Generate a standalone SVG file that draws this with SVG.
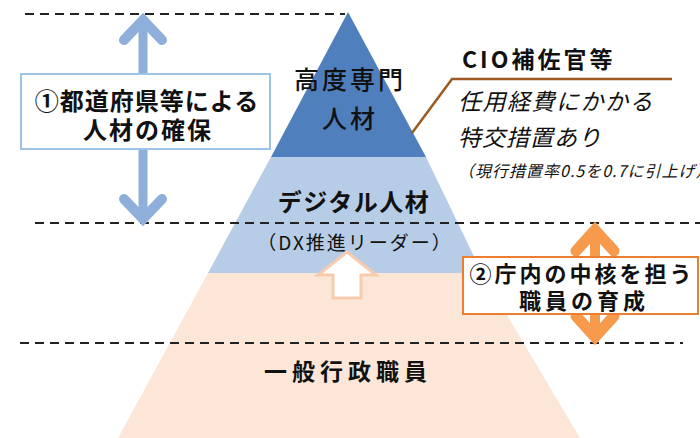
<svg xmlns="http://www.w3.org/2000/svg" width="700" height="438" viewBox="0 0 700 438">
<style>
  text { font-family: "Noto Sans CJK JP", "Noto Sans", sans-serif; fill: #111; }
  .b { font-weight: bold; }
  .it { font-style: italic; }
  .dash { stroke: #222; stroke-width: 2; stroke-dasharray: 9 6; fill: none; }
  .barrow { stroke: #8EAFD9; fill: none; stroke-width: 10; stroke-linecap: round; stroke-linejoin: miter; }
  .oarrow { stroke: #F79A4B; fill: none; stroke-width: 11; stroke-linecap: round; stroke-linejoin: miter; }
</style>
<rect width="700" height="438" fill="#fff"/>

<g id="pyramid-general">
  <polygon points="208,273 482,273 580,438 118,438" fill="#FCE6D8"/>
  <text class="b" x="348" y="380" font-size="23" text-anchor="middle" letter-spacing="5">一般行政職員</text>
</g>
<g id="pyramid-digital">
  <polygon points="271,157 426,157 482,273 208,273" fill="#B7CCE6"/>
  <text class="b" x="354" y="211" font-size="24" text-anchor="middle" letter-spacing="1.5">デジタル人材</text>
  <text x="355" y="250" font-size="19" text-anchor="middle" letter-spacing="2">（DX推進リーダー）</text>
</g>
<g id="pyramid-expert">
  <polygon points="348,12 426,157 271,157" fill="#4F7FBC"/>
  <text x="350" y="89" font-size="25" text-anchor="middle" letter-spacing="3" font-weight="500">高度専門</text>
  <text x="350" y="128" font-size="25" text-anchor="middle" letter-spacing="3" font-weight="500">人材</text>
</g>

<g id="connectors">
  <line class="dash" x1="25" y1="14" x2="345" y2="14"/>
  <line class="dash" x1="35" y1="223" x2="700" y2="223"/>
  <line class="dash" x1="20" y1="343" x2="683" y2="343"/>
  <line x1="143" y1="26" x2="143" y2="214" stroke="#8EAFD9" stroke-width="9"/>
  <path class="barrow" d="M124,40 L143,20 L162,40"/>
  <path class="barrow" d="M124,199 L143,219 L162,199"/>
  <line x1="595" y1="232" x2="595" y2="334" stroke="#F79A4B" stroke-width="10"/>
  <path class="oarrow" d="M576,251 L595,230 L614,251"/>
  <path class="oarrow" d="M576,316 L595,337 L614,316"/>
  <polygon points="347,252 376,275 361,275 361,298 333,298 333,275 318,275" fill="#fff" stroke="#F8CBAD" stroke-width="3" stroke-linejoin="miter"/>
  <polyline points="412,133 452,79 672,79" fill="none" stroke="#9C5A1E" stroke-width="2.5"/>
</g>

<g id="box-1">
  <rect x="21" y="74" width="249" height="75" fill="#fff" stroke="#9DC3E6" stroke-width="2"/>
  <text class="b" x="147" y="110" font-size="24" text-anchor="middle" letter-spacing="1">①都道府県等による</text>
  <text class="b" x="148" y="139" font-size="24" text-anchor="middle" letter-spacing="2">人材の確保</text>
</g>

<g id="box-2">
  <rect x="463" y="257" width="235" height="57" fill="#fff" stroke="#ED7D31" stroke-width="2"/>
  <text class="b" x="582" y="282" font-size="22" text-anchor="middle" letter-spacing="3">②庁内の中核を担う</text>
  <text class="b" x="584" y="309" font-size="22" text-anchor="middle" letter-spacing="4">職員の育成</text>
</g>

<g id="cio-note">
  <text class="b" x="462" y="68" font-size="23" letter-spacing="3">CIO補佐官等</text>
  <text class="it" x="458" y="110" font-size="23" letter-spacing="1.5">任用経費にかかる</text>
  <text class="it" x="458" y="146" font-size="23" letter-spacing="1">特交措置あり</text>
  <text class="it" x="458" y="177" font-size="16" letter-spacing="1">（現行措置率0.5を0.7に引上げ）</text>
</g>
</svg>
